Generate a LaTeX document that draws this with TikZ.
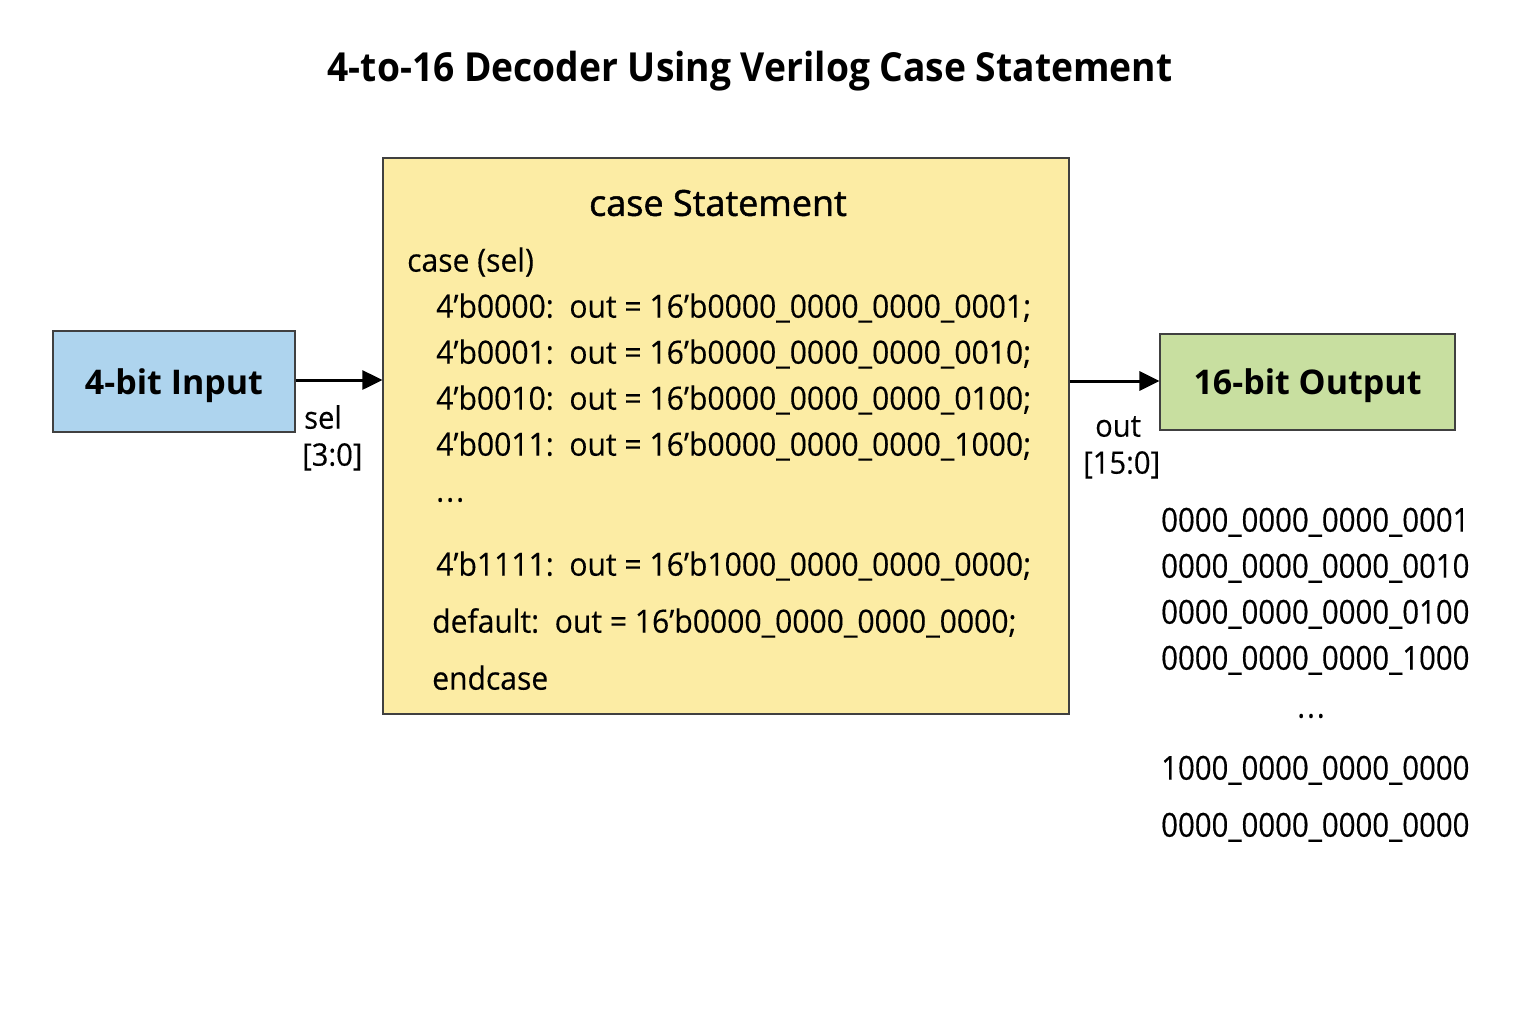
\documentclass[tikz,border=0pt]{standalone}
\usepackage{fontspec}
\setmainfont{Open Sans}
\newfontfamily\codef[FakeStretch=0.94,FakeBold=0.3]{Open Sans}
\newfontfamily\valf[FakeStretch=0.89,FakeBold=0.3]{Open Sans}
\newfontfamily\titlef[FakeStretch=0.93]{Open Sans}
\newfontfamily\headf[FakeBold=1.3]{Open Sans}
\usetikzlibrary{arrows.meta}
\begin{document}
\begin{tikzpicture}[x=1pt,y=-1pt,
  box/.style={draw=black!75, line width=1.2pt, inner sep=0pt},
  lbl/.style={font=\fontsize{34}{40}\selectfont\bfseries, inner sep=0pt, yshift=-4pt},
  code/.style={font=\codef\fontsize{32}{38}\selectfont, anchor=mid west, inner sep=0pt},
  val/.style={font=\valf\fontsize{33}{38}\selectfont, anchor=mid west, inner sep=0pt},
  side/.style={font=\codef\fontsize{31}{36}\selectfont, anchor=mid west, inner sep=0pt},
  conn/.style={line width=3pt, -{Triangle[length=20pt,width=19pt]}}]
\useasboundingbox (0,0) rectangle (1536,1024);
\fill[white] (0,0) rectangle (1536,1024);
\node[font=\titlef\fontsize{40}{46}\selectfont\bfseries, inner sep=0pt] (title) at (750,71) {4-to-16 Decoder Using Verilog Case Statement};
% boxes
\node[box, fill={rgb,255:red,174;green,212;blue,238}, minimum width=242pt, minimum height=101pt] (in) at (174,381.5) {};
\node[lbl] (inl) at (in.center) {4-bit Input};
\node[box, fill={rgb,255:red,252;green,236;blue,164}, minimum width=686pt, minimum height=556pt] (cs) at (726,436) {};
\node[box, fill={rgb,255:red,200;green,223;blue,160}, minimum width=295pt, minimum height=96pt] (out) at (1307.5,382) {};
\node[lbl] (outl) at (out.center) {16-bit Output};
% connectors
\draw[conn] (in.east |- 0,380) -- (cs.west |- 0,380);
\draw[conn] (cs.east |- 0,381) -- (out.west |- 0,381);
\node[side] (sel) at (304,426) {sel};
\node[side] (selw) at (302,463) {[3:0]};
\node[side] (o1) at (1095,434) {out};
\node[side] (o2) at (1083,471) {[15:0]};
% code
\node[font=\headf\fontsize{36}{42}\selectfont, inner sep=0pt] (cst) at (718,203) {case Statement};
\node[code] (c0) at (407,269) {case (sel)};
\node[code] (c1) at (436,315) {4’b0000:\ \ out = 16’b0000\_0000\_0000\_0001;};
\node[code] (c2) at (436,361) {4’b0001:\ \ out = 16’b0000\_0000\_0000\_0010;};
\node[code] (c3) at (436,407) {4’b0010:\ \ out = 16’b0000\_0000\_0000\_0100;};
\node[code] (c4) at (436,453) {4’b0011:\ \ out = 16’b0000\_0000\_0000\_1000;};
\node[code] (c5) at (436,499) {.\kern2pt.\kern2pt.};
\node[code] (c6) at (436,573) {4’b1111:\ \ out = 16’b1000\_0000\_0000\_0000;};
\node[code] (c7) at (432,630) {default:\ \ out = 16’b0000\_0000\_0000\_0000;};
\node[code] (c8) at (432,687) {endcase};
% values
\node[val] (v1) at (1161,529) {0000\_0000\_0000\_0001};
\node[val] (v2) at (1161,575) {0000\_0000\_0000\_0010};
\node[val] (v3) at (1161,621) {0000\_0000\_0000\_0100};
\node[val] (v4) at (1161,667) {0000\_0000\_0000\_1000};
\node[font=\valf\fontsize{33}{38}\selectfont, inner sep=0pt] (v5) at (1311,716) {.\kern2pt.\kern2pt.};
\node[val] (v6) at (1161,777) {1000\_0000\_0000\_0000};
\node[val] (v7) at (1161,834) {0000\_0000\_0000\_0000};
\end{tikzpicture}
\end{document}
